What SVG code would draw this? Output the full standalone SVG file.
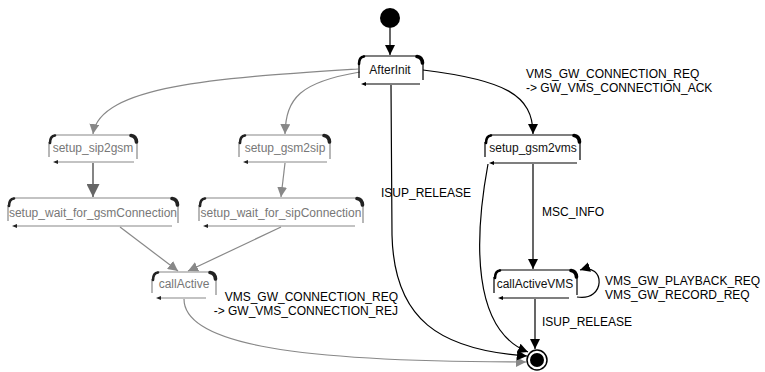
<svg xmlns="http://www.w3.org/2000/svg" width="765" height="372" viewBox="0 0 765 372">
  <style>
    .lbl { font-family: "Liberation Sans", Arial, sans-serif; font-size: 12px; fill: #000; }
    .name { font-family: "Liberation Sans", Arial, sans-serif; font-size: 12px; text-anchor: middle; }
    .blk .name { fill: #111; }
    .gry .name { fill: #777; }
    .frame { fill: none; stroke-width: 1.2; }
    .blk .frame { stroke: #000; }
    .gry .frame { stroke: #888; }
    .c1 { fill: none; stroke-width: 2.6; stroke-linecap: round; }
    .c2 { fill: none; stroke-width: 3.6; stroke-linecap: round; }
    .blk .c1, .blk .c2 { stroke: #000; }
    .gry .c1, .gry .c2 { stroke: #222; }
    .tip { stroke: none; }
    .blk .tip { fill: #000; }
    .gry .tip { fill: #222; }
    .edge { fill: none; stroke-width: 1.2; }
    .eb { stroke: #000; }
    .eg { stroke: #888; }
    .ed { stroke: #666; stroke-width: 1.6; }
  </style>
  <defs>
    <marker id="ab" viewBox="0 0 10 10" refX="10" refY="5" markerWidth="10" markerHeight="10" markerUnits="userSpaceOnUse" orient="auto">
      <path d="M0,0 L10,5 L0,10 z" fill="#000"/>
    </marker>
    <marker id="ag" viewBox="0 0 10 10" refX="10" refY="5" markerWidth="10" markerHeight="10" markerUnits="userSpaceOnUse" orient="auto">
      <path d="M0,0 L10,5 L0,10 z" fill="#888"/>
    </marker>
    <marker id="ad" viewBox="0 0 10 10" refX="10" refY="5" markerWidth="13" markerHeight="13" markerUnits="userSpaceOnUse" orient="auto">
      <path d="M0,0 L10,5 L0,10 z" fill="#666"/>
    </marker>
  </defs>

  <!-- transitions -->
  <g id="connectors">
    <path class="edge eb" d="M390,28 L390,55" marker-end="url(#ab)"/>
    <path class="edge eg" d="M358,69 C220,78 100,85 93,134" marker-end="url(#ag)"/>
    <path class="edge eg" d="M360,72 C300,82 286,98 285,134" marker-end="url(#ag)"/>
    <path class="edge ed" d="M93,163 L93,197" marker-end="url(#ad)"/>
    <path class="edge eg" d="M285,163 L281,197" marker-end="url(#ag)"/>
    <path class="edge eg" d="M120,227 L178,271" marker-end="url(#ag)"/>
    <path class="edge eg" d="M281,227 L188,271" marker-end="url(#ag)"/>
    <path class="edge eg" d="M184,299 C184,345 300,362 526,362" marker-end="url(#ag)"/>
    <path class="edge eb" d="M391,85 L392,235 C394,320 440,350 527,356" marker-end="url(#ab)"/>
    <path class="edge eb" d="M423,70 C505,80 533,95 533,134" marker-end="url(#ab)"/>
    <path class="edge eb" d="M533,164 L533,269" marker-end="url(#ab)"/>
    <path class="edge eb" d="M488,164 C474,240 472,330 528,352" marker-end="url(#ab)"/>
    <path class="edge eb" d="M535,299 L535,349" marker-end="url(#ab)"/>
    <path class="edge eb" d="M577,297 C606,302 606,262 580,270" marker-end="url(#ab)"/>

    <text class="lbl" x="526" y="78">VMS_GW_CONNECTION_REQ</text>
    <text class="lbl" x="526" y="92">-&gt; GW_VMS_CONNECTION_ACK</text>
    <text class="lbl" x="381" y="197">ISUP_RELEASE</text>
    <text class="lbl" x="542" y="216">MSC_INFO</text>
    <text class="lbl" x="605" y="285">VMS_GW_PLAYBACK_REQ</text>
    <text class="lbl" x="605" y="299">VMS_GW_RECORD_REQ</text>
    <text class="lbl" x="542" y="326">ISUP_RELEASE</text>
    <text class="lbl" x="398" y="301" text-anchor="end">VMS_GW_CONNECTION_REQ</text>
    <text class="lbl" x="398" y="315" text-anchor="end">-&gt; GW_VMS_CONNECTION_REJ</text>
  </g>

  <!-- pseudo states -->
  <g id="initial">
    <circle cx="390" cy="18" r="10" fill="#000"/>
  </g>
  <g id="final">
    <circle cx="537" cy="360" r="10" fill="#fff" stroke="#000" stroke-width="1.5"/>
    <circle cx="537" cy="360" r="7" fill="#000"/>
  </g>

  <!-- states -->
  <g id="AfterInit" class="blk">
    <path class="frame" d="M363,56 H417 M359,63 V78 M423,63 V80 M365,84 H420"/>
    <path class="c1" d="M359,64 Q359,57 364,56.5"/>
    <path class="c2" d="M417,56.5 Q422,57 422.5,63"/>
    <path class="tip" d="M361,84 L366,82 L366,86 z"/>
    <text class="name" x="390" y="74">AfterInit</text>
  </g>

  <g id="setup_sip2gsm" class="gry">
    <path class="frame" d="M54,135 H131 M49,142 V157 M137,142 V159 M57,162 H134"/>
    <path class="c1" d="M50,143 Q50,136 55,135.5"/>
    <path class="c2" d="M131,135.5 Q136,136 136.5,142"/>
    <path class="tip" d="M53,162 L58,160 L58,164 z"/>
    <text class="name" x="93" y="152">setup_sip2gsm</text>
  </g>

  <g id="setup_gsm2sip" class="gry">
    <path class="frame" d="M244,135 H324 M239,142 V157 M330,142 V159 M247,162 H327"/>
    <path class="c1" d="M240,143 Q240,136 245,135.5"/>
    <path class="c2" d="M324,135.5 Q329,136 329.5,142"/>
    <path class="tip" d="M243,162 L248,160 L248,164 z"/>
    <text class="name" x="285" y="152">setup_gsm2sip</text>
  </g>

  <g id="setup_wait_for_gsmConnection" class="gry">
    <path class="frame" d="M13,198 H172 M8,205 V221 M178,205 V223 M16,226 H172"/>
    <path class="c1" d="M9,206 Q9,199 14,198.5"/>
    <path class="c2" d="M172,198.5 Q177,199 177.5,205"/>
    <path class="tip" d="M12,226 L17,224 L17,228 z"/>
    <text class="name" x="93" y="217">setup_wait_for_gsmConnection</text>
  </g>

  <g id="setup_wait_for_sipConnection" class="gry">
    <path class="frame" d="M204,198 H357 M199,205 V221 M363,205 V223 M207,226 H355"/>
    <path class="c1" d="M200,206 Q200,199 205,198.5"/>
    <path class="c2" d="M357,198.5 Q362,199 362.5,205"/>
    <path class="tip" d="M203,226 L208,224 L208,228 z"/>
    <text class="name" x="281" y="217">setup_wait_for_sipConnection</text>
  </g>

  <g id="callActive" class="gry">
    <path class="frame" d="M157,272 H210 M152,279 V293 M216,279 V295 M160,298 H206"/>
    <path class="c1" d="M153,280 Q153,273 158,272.5"/>
    <path class="c2" d="M210,272.5 Q215,273 215.5,279"/>
    <path class="tip" d="M156,298 L161,296 L161,300 z"/>
    <text class="name" x="184" y="288">callActive</text>
  </g>

  <g id="setup_gsm2vms" class="blk">
    <path class="frame" d="M490,135 H574 M485,142 V157 M580,142 V160 M493,163 H577"/>
    <path class="c1" d="M486,143 Q486,136 491,135.5"/>
    <path class="c2" d="M574,135.5 Q579,136 579.5,142"/>
    <path class="tip" d="M489,163 L494,161 L494,165 z"/>
    <text class="name" x="533" y="152">setup_gsm2vms</text>
  </g>

  <g id="callActiveVMS" class="blk">
    <path class="frame" d="M499,270 H571 M494,277 V293 M577,277 V295 M502,298 H569"/>
    <path class="c1" d="M495,278 Q495,271 500,270.5"/>
    <path class="c2" d="M571,270.5 Q576,271 576.5,277"/>
    <path class="tip" d="M498,298 L503,296 L503,300 z"/>
    <text class="name" x="535" y="288">callActiveVMS</text>
  </g>
</svg>
